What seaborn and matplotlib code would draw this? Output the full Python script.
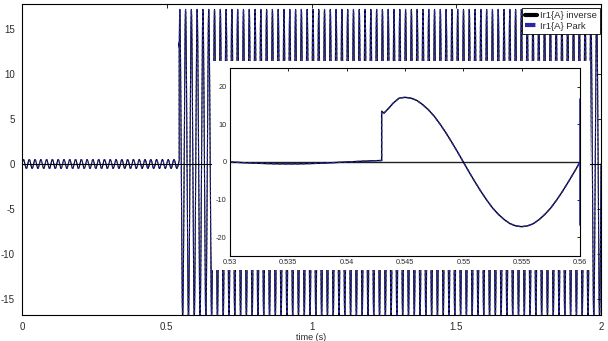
import numpy as np
import pandas as pd
import matplotlib
matplotlib.use("Agg")
import matplotlib.pyplot as plt
import seaborn as sns
from matplotlib.patches import Rectangle

# ---------------- data ----------------
# pre-fault 50 Hz cycle (A), one value per 1 ms
pre_cycle = [0.0, 0.15, 0.29, 0.40, 0.48, 0.50, 0.48, 0.40, 0.29, 0.15,
             0.0, -0.15, -0.29, -0.40, -0.48, -0.50, -0.48, -0.40, -0.29, -0.15]
pre_dt = 0.001
# post-fault 50 Hz cycle (A), one value per 0.5 ms (0.54-0.56 s)
post_cycle = [0.0, 2.7, 5.3, 7.8, 10.1, 12.2, 13.9, 15.3, 16.4, 17.0,
              17.2, 17.0, 16.4, 15.3, 13.9, 12.2, 10.1, 7.8, 5.3, 2.7,
              0.0, -2.7, -5.3, -7.8, -10.1, -12.2, -13.9, -15.3, -16.4, -17.0,
              -17.2, -17.0, -16.4, -15.3, -13.9, -12.2, -10.1, -7.8, -5.3, -2.7]
post_dt = 0.0005
fault_time = 0.543
# transient right after the fault step
trans_t = [0.543, 0.5432, 0.5436, 0.544]
trans_i = [13.5, 13.0, 14.3, 15.7]
t_end = 2.0
# Park curve: vertical trace at the right edge of the inset
park_tail_t = [0.56, 0.56]
park_tail_i = [16.8, -16.8]

main_xticks = [0, 0.5, 1, 1.5, 2]
main_xlabels = ["0", "0.5", "1", "1.5", "2"]
main_yticks = [-15, -10, -5, 0, 5, 10, 15]
inset_xticks = [0.53, 0.535, 0.54, 0.545, 0.55, 0.555, 0.56]
inset_xlabels = ["0.53", "0.535", "0.54", "0.545", "0.55", "0.555", "0.56"]
inset_yticks = [-20, -10, 0, 10, 20]

# ---------------- build the series ----------------
k_pre = np.arange(0, int(round(fault_time / pre_dt)) + 1)
t_pre = k_pre * pre_dt
i_pre = np.array(pre_cycle)[k_pre % len(pre_cycle)]
k_post = np.arange(int(round(0.5445 / post_dt)), int(round(t_end / post_dt)) + 1)
t_post = k_post * post_dt
i_post = np.array(post_cycle)[k_post % len(post_cycle)]
t_all = np.concatenate([t_pre, trans_t, t_post])
i_all = np.concatenate([i_pre, trans_i, i_post])
df = pd.DataFrame({"t": t_all, "i": i_all})
df_in = df[(df.t >= 0.5285) & (df.t <= 0.5615)]

# ---------------- styling ----------------
sns.set_style("white")
plt.rcParams["font.family"] = ["Liberation Sans", "DejaVu Sans"]
plt.rcParams["axes.unicode_minus"] = False
BLUE = (0.16, 0.16, 0.66)
TXT = "#2a2a2a"

fig = plt.figure(figsize=(6.08, 3.41), dpi=100)
ax = fig.add_axes([22 / 608, 1 - 315 / 341, 579 / 608, 311 / 341])

sns.lineplot(data=df, x="t", y="i", ax=ax, estimator=None, sort=False,
             color="black", lw=0.8, label="Ir1{A} inverse")
sns.lineplot(data=df, x="t", y="i", ax=ax, estimator=None, sort=False,
             color=BLUE, lw=0.8, dashes=False, label="Ir1{A} Park")
ax.lines[-1].set_dashes([2.5, 1.8])
ax.axhline(0, color="black", lw=0.8, zorder=5)

ax.set_xlim(0, 2)
ax.set_ylim(-16.8, 17.8)
ax.set_xticks(main_xticks)
ax.set_xticklabels(main_xlabels)
ax.set_yticks(main_yticks)
ax.tick_params(direction="in", length=3, width=0.6, top=True, right=True,
               labelsize=7, colors="black", labelcolor=TXT)
ax.tick_params(axis="y", pad=5)
ax.tick_params(axis="x", pad=5)
ax.set_xlabel("time (s)", fontsize=6.5, color=TXT, labelpad=1)
ax.set_ylabel("")
for s in ax.spines.values():
    s.set_color("black")
    s.set_linewidth(0.8)

leg = ax.legend(loc="upper right", bbox_to_anchor=(600 / 608, 1 - 8 / 341),
                bbox_transform=fig.transFigure, borderaxespad=0, fontsize=6.8,
                fancybox=False, framealpha=1, edgecolor="black",
                handlelength=1.2, handletextpad=0.35, labelspacing=0.15,
                borderpad=0.35)
leg.get_frame().set_linewidth(0.6)
for ln in leg.get_lines():
    ln.set_linewidth(3)
for txt in leg.get_texts():
    txt.set_color(TXT)

# white background around the inset
rect = Rectangle((212 / 608, 1 - 270 / 341), 378 / 608, 209 / 341,
                 transform=fig.transFigure, facecolor="white", edgecolor="none",
                 zorder=2)
fig.add_artist(rect)

axi = fig.add_axes([230 / 608, 1 - 256 / 341, 350 / 608, 188 / 341])
axi.set_zorder(3)
sns.lineplot(data=df_in, x="t", y="i", ax=axi, estimator=None, sort=False,
             color="black", lw=1.0, legend=False)
sns.lineplot(data=df_in, x="t", y="i", ax=axi, estimator=None, sort=False,
             color=BLUE, lw=1.0, legend=False)
axi.lines[-1].set_dashes([2.5, 1.8])
sns.lineplot(x=park_tail_t, y=park_tail_i, ax=axi, estimator=None, sort=False,
             color=BLUE, lw=1.2, legend=False)
for ln in axi.lines[-1:]:
    ln.set_clip_on(False)
axi.axhline(0, color="#222222", lw=1.0, zorder=1)
axi.set_xlim(0.53, 0.56)
axi.set_ylim(-25, 25)
axi.set_xticks(inset_xticks)
axi.set_xticklabels(inset_xlabels)
axi.set_yticks(inset_yticks)
axi.tick_params(direction="in", length=2.5, width=0.6, top=True, right=True,
                labelsize=5.3, colors="black", labelcolor=TXT, pad=2.5)
axi.set_xlabel("")
axi.set_ylabel("")
for s in axi.spines.values():
    s.set_color("black")
    s.set_linewidth(0.8)

fig.savefig("out.png", dpi=100)
